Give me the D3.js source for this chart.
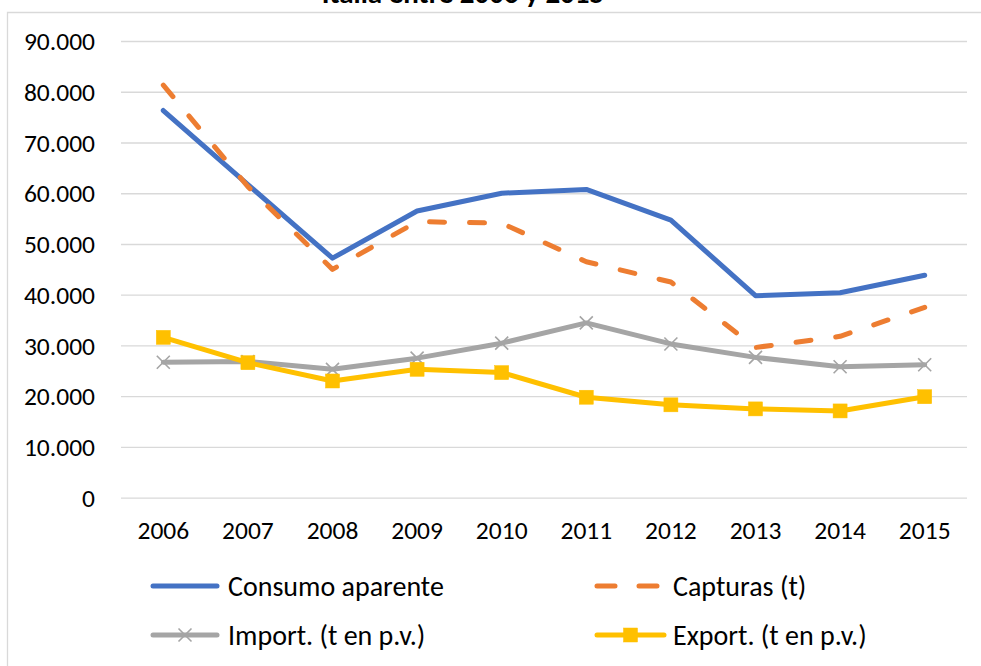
<!DOCTYPE html>
<html>
<head>
<meta charset="utf-8">
<script src="https://cdn.jsdelivr.net/npm/d3@7"></script>
<style>
  html, body { margin: 0; padding: 0; background: #fff; overflow: hidden; }
  svg { display: block; }
  text { font-family: Carlito, Lato, sans-serif; fill: #000; }
</style>
</head>
<body>
<svg id="chart" width="981" height="666"></svg>
<script>
const years = ["2006","2007","2008","2009","2010","2011","2012","2013","2014","2015"];
const consumo  = [76300, 61700, 47200, 56500, 60000, 60750, 54700, 39800, 40400, 43850];
const capturas = [81300, 61300, 45000, 54400, 54100, 46500, 42500, 29600, 31800, 37500];
const importT  = [26700, 26850, 25300, 27500, 30450, 34450, 30300, 27650, 25800, 26200];
const exportT  = [31600, 26600, 23000, 25300, 24650, 19800, 18300, 17500, 17100, 19900];
const yTicks = [0, 10000, 20000, 30000, 40000, 50000, 60000, 70000, 80000, 90000];
const seriesNames = ["Consumo aparente", "Capturas (t)", "Import. (t en p.v.)", "Export. (t en p.v.)"];
const titleText = "Italia entre 2006 y 2015";

const colors = ["#4472C4", "#ED7D31", "#A5A5A5", "#FFC000"];
const series = [
  {name: seriesNames[0], values: consumo,  color: colors[0], dash: null, marker: null},
  {name: seriesNames[1], values: capturas, color: colors[1], dash: "15,25", marker: null},
  {name: seriesNames[2], values: importT,  color: colors[2], dash: null, marker: "x"},
  {name: seriesNames[3], values: exportT,  color: colors[3], dash: null, marker: "square"}
];

const svg = d3.select("#chart");

// chart area border (extends past the right and bottom edges)
svg.append("path")
  .attr("d", "M7.5,700V12.5H1000")
  .attr("fill", "none").attr("stroke", "#d9d9d9").attr("stroke-width", 1.3);

// title (mostly clipped at top, as in the reference)
svg.append("text")
  .attr("x", 463).attr("y", 3)
  .attr("text-anchor", "middle")
  .style("font-weight", "bold")
  .style("font-size", "29px")
  .text(titleText);

const x = d3.scaleBand().domain(years).range([121, 967]);
const y = d3.scaleLinear().domain([0, 90000]).range([497.7, 41]);

const loc = d3.formatLocale({decimal: ",", thousands: ".", grouping: [3], currency: ["", ""]});
const fmt = loc.format(",");

// gridlines
const yAxisGrid = d3.axisLeft(y).tickValues(yTicks).tickSize(-(967 - 121)).tickFormat("");
const gGrid = svg.append("g").attr("transform", "translate(121,0)").call(yAxisGrid);
gGrid.select(".domain").remove();
gGrid.selectAll(".tick line").attr("stroke", "#d9d9d9").attr("stroke-width", 1.3);

// y tick labels
const yAxis = d3.axisLeft(y).tickValues(yTicks).tickSize(0).tickPadding(0).tickFormat(fmt);
const gY = svg.append("g").attr("transform", "translate(95,0)").call(yAxis);
gY.select(".domain").remove();
gY.selectAll(".tick text")
  .style("font-size", "25.5px").style("font-family", "Carlito, Lato, sans-serif")
  .attr("fill", "#000").attr("dy", "0.34em");

// x tick labels
const xAxis = d3.axisBottom(x).tickSize(0).tickPadding(0);
const gX = svg.append("g").attr("transform", "translate(0,539)").call(xAxis);
gX.select(".domain").remove();
gX.selectAll(".tick text")
  .style("font-size", "25.5px").style("font-family", "Carlito, Lato, sans-serif")
  .attr("fill", "#000").attr("dy", "0").attr("y", 0);

const cx = d => x(d) + x.bandwidth() / 2;
const line = d3.line().x((d, i) => cx(years[i])).y(d => y(d));

function drawMarker(g, type, px, py, color) {
  if (type === "x") {
    const s = 6.5;
    g.append("path")
      .attr("d", `M${px - s},${py - s}L${px + s},${py + s}M${px - s},${py + s}L${px + s},${py - s}`)
      .attr("stroke", color).attr("stroke-width", 1.6).attr("fill", "none");
  } else if (type === "square") {
    const s = 7;
    g.append("rect").attr("x", px - s).attr("y", py - s)
      .attr("width", 2 * s).attr("height", 2 * s)
      .attr("fill", color).attr("stroke", color).attr("stroke-width", 0.5);
  }
}

series.forEach(s => {
  const g = svg.append("g");
  g.append("path")
    .datum(s.values)
    .attr("d", line)
    .attr("fill", "none")
    .attr("stroke", s.color)
    .attr("stroke-width", 5)
    .attr("stroke-linejoin", "round")
    .attr("stroke-linecap", "round")
    .attr("stroke-dasharray", s.dash);
  if (s.marker) {
    s.values.forEach((v, i) => drawMarker(g, s.marker, cx(years[i]), y(v), s.color));
  }
});

// legend
const legendPos = [
  {x1: 153, x2: 217, tx: 228, y: 586},
  {x1: 597, x2: 664, tx: 673, y: 586},
  {x1: 153, x2: 217, tx: 228, y: 635},
  {x1: 597, x2: 664, tx: 673, y: 635}
];
series.forEach((s, i) => {
  const p = legendPos[i];
  const g = svg.append("g");
  g.append("line")
    .attr("x1", p.x1).attr("x2", p.x2).attr("y1", p.y).attr("y2", p.y)
    .attr("stroke", s.color).attr("stroke-width", 5)
    .attr("stroke-linecap", "round")
    .attr("stroke-dasharray", s.dash ? "18,24" : null);
  if (s.marker) drawMarker(g, s.marker, (p.x1 + p.x2) / 2, p.y, s.color);
  g.append("text")
    .attr("x", p.tx).attr("y", p.y).attr("dy", "0.34em")
    .style("font-size", "28px")
    .text(s.name);
});
</script>
</body>
</html>
